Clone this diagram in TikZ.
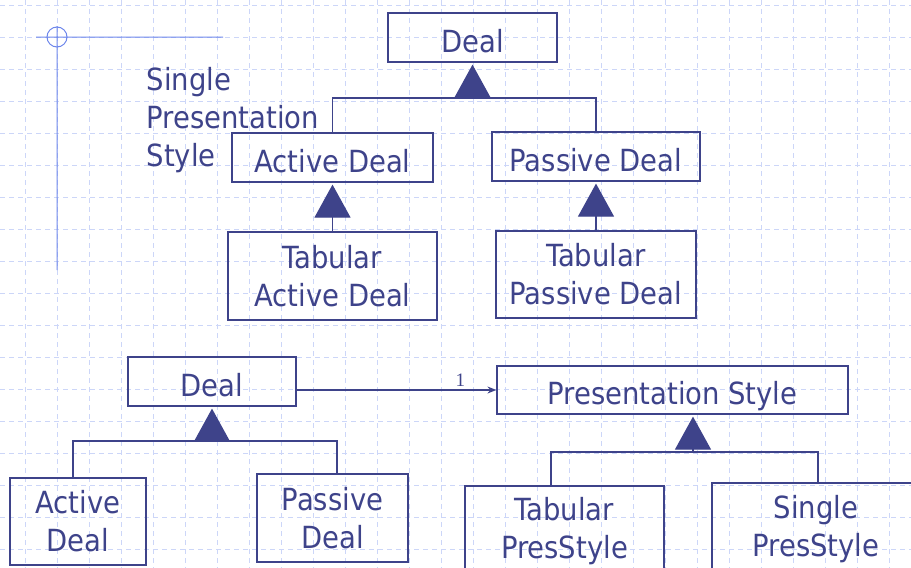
\documentclass[tikz,border=0pt]{standalone}
\usepackage{fontspec}
\setmainfont{DejaVu Sans Condensed}
\newfontfamily\multfont{Liberation Serif}
\usetikzlibrary{arrows.meta}
\definecolor{umlblue}{RGB}{62,67,138}
\definecolor{gridblue}{RGB}{204,214,248}
\definecolor{crossblue}{RGB}{110,135,235}
\begin{document}
\begin{tikzpicture}[x = 1pt, y = -1pt, line width = 1.2pt, umlblue,
    box/.style = {draw, rectangle, inner sep = 0pt, align = center, font = \fontsize{30.5}{38}\selectfont},
    onebox/.style = {box, text height = 29pt, text depth = 0pt},
    gridline/.style = {gridblue, line width = 0.9pt, dash pattern = on 5pt off 4pt},
    inherit/.style = {-{Triangle[width = 36pt, length = 33pt]}, shorten > = 2pt}]
\useasboundingbox (0,0) rectangle (911,568);
\clip (0,0) rectangle (911,568);
% grid in the background
\foreach \x in {25,57,...,905} \draw[gridline] (\x,0) -- (\x,568);
\foreach \y in {5,37,...,565} \draw[gridline] (0,\y) -- (911,\y);
\draw[crossblue, line width = 1pt] (36,37) -- (223,37) (57,26) -- (57,270)
    (57,37) circle[radius = 10pt];
% single presentation style
\draw (472.5,37.5) node[onebox, minimum width = 169pt, minimum height = 49pt](a1){Deal}
    (332.5,157.5) node[onebox, minimum width = 201pt, minimum height = 49pt](a2){Active Deal}
    (596,156.5) node[onebox, minimum width = 208pt, minimum height = 49pt](a3){Passive Deal}
    (332.5,276) node[box, minimum width = 209pt, minimum height = 88pt](a4){Tabular\\Active Deal}
    (596,274.5) node[box, minimum width = 200pt, minimum height = 87pt](a5){Tabular\\Passive Deal};
\draw (146,67) node[anchor = north west, inner sep = 0pt, align = left, font = \fontsize{30.5}{38}\selectfont](lbl){Single\\Presentation\\Style};
\coordinate (j1) at (472.5,98);
\draw (a2.north) |- (j1) -| (a3.north);
\draw[inherit] (j1) -- (a1.south);
\draw[inherit] (a4.north) -- (a2.south);
\draw[inherit] (a5.north) -- (a3.south);
% separate presentation style
\draw (212,381.5) node[onebox, minimum width = 168pt, minimum height = 49pt](b1){Deal}
    (78,521.5) node[box, minimum width = 136pt, minimum height = 87pt](b2){Active\\Deal}
    (332.5,518) node[box, minimum width = 151pt, minimum height = 88pt](b3){Passive\\Deal}
    (672.5,390) node[onebox, minimum width = 351pt, minimum height = 48pt](c1){Presentation Style}
    (564.5,531) node[box, minimum width = 199pt, minimum height = 90pt](c2){Tabular\\PresStyle}
    (816,529) node[box, minimum width = 208pt, minimum height = 92pt](c3){Single\\PresStyle};
\coordinate (j2) at (212,441);
\draw ([xshift = -5pt]b2.north) |- (j2) -| ([xshift = 4.5pt]b3.north);
\draw[inherit] (j2) -- (b1.south);
\coordinate (j3) at (693,452);
\draw ([xshift = -13.5pt]c2.north) |- (j3) -| ([xshift = 2pt]c3.north);
\draw[inherit] (j3) -- (c1.south -| j3);
\draw[-{Stealth[length = 9pt, width = 7pt]}] (b1.east |- c1.west) -- (c1.west)
    node[pos = 0.82, above, font = \multfont\fontsize{19}{19}\selectfont]{1};
\end{tikzpicture}
\end{document}
